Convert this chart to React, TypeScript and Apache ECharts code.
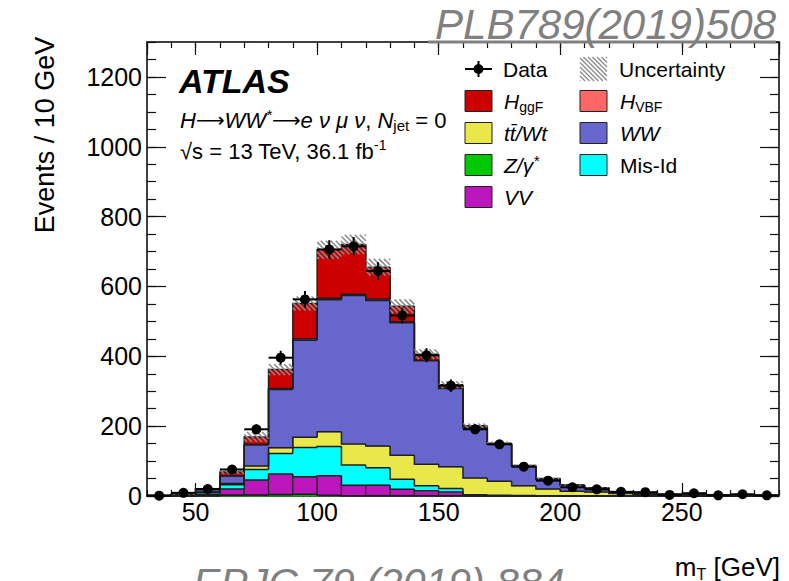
import React, { useEffect, useRef } from "react";
import * as echarts from "echarts";

// ---------------- data (events per 10 GeV bin) ----------------
const binEdges = [30, 40, 50, 60, 70, 80, 90, 100, 110, 120, 130, 140, 150, 160, 170, 180, 190, 200, 210, 220, 230, 240, 250, 260, 270, 280, 290];

// stacked contributions, bottom to top
const zGamma = [0, 0, 1, 3, 3, 4, 5, 2, 1, 1, 1, 1, 0.5, 0.3, 0.2, 0.1, 0.1, 0, 0, 0, 0, 0, 0, 0, 0, 0];
const vv = [0.3, 1, 4, 17, 43, 59, 50, 56, 30, 30, 18, 14, 11, 1.5, 0.8, 0.5, 0.3, 0.2, 0.2, 0.1, 0.1, 0.1, 0, 0, 0, 0];
const misId = [0.5, 1.5, 5, 12, 30, 59, 84, 84, 58, 50, 29, 14, 10, 2, 1, 0.5, 0.4, 0.3, 0.2, 0.1, 0.1, 0, 0, 0, 0, 0];
const ttWt = [0.2, 0.5, 1.5, 4, 10, 16, 29, 42, 60, 62, 69, 62, 62, 48, 40, 28, 19, 13, 11, 7, 5, 3.5, 2.5, 2, 1.5, 1];
const ww = [0.4, 1.5, 7, 21, 60, 167, 278, 378, 425, 417, 379, 296, 224, 143, 106, 56, 29, 17, 12, 4, 2, 1.5, 1, 0.5, 0.5, 0.3];
const hVBF = [0, 0, 0.2, 1, 2, 3, 4, 4, 4, 4, 3, 2, 1, 1, 0.5, 0.5, 0.3, 0.2, 0.1, 0.1, 0, 0, 0, 0, 0, 0];
const hggF = [0.1, 0.5, 2, 11, 21, 54, 101, 139, 142, 91, 44, 17, 10, 5, 2.5, 1.5, 1, 0.5, 0.4, 0.3, 0.2, 0.1, 0.1, 0.1, 0.1, 0.1];
const uncertainty = [0.5, 1, 2, 6, 14, 16, 20, 26, 28, 24, 20, 14, 10, 7, 5, 3, 2, 1.5, 1, 0.6, 0.4, 0.3, 0.2, 0.2, 0.1, 0.1];

const dataCounts = [1, 9, 20, 76, 191, 396, 563, 706, 715, 644, 517, 403, 316, 191, 148, 84, 44, 25, 19, 12, 11, 3, 8, 2, 5, 2];
const dataErrors = [1, 3, 4.5, 8.7, 13.8, 19.9, 23.7, 26.6, 26.7, 25.4, 22.7, 20.1, 17.8, 13.8, 12.2, 9.2, 6.6, 5, 4.4, 3.5, 3.3, 1.7, 2.8, 1.4, 2.2, 1.4];

const layerNames = ["Z/γ*", "VV", "Mis-Id", "tt/Wt", "WW", "H VBF", "H ggF"];
const layerValues = [zGamma, vv, misId, ttWt, ww, hVBF, hggF];
const layerColors = ["#00c800", "#bb16bb", "#00ffff", "#e8e84a", "#6666cc", "#ff6666", "#cc0000"];
const layerBoxed = [false, true, false, false, false, false, false];

const FONT = '"Liberation Sans", Arial, Helvetica, sans-serif';

function hatchSegments(x0: number, y0: number, x1: number, y1: number, s: number) {
  const segs: number[][] = [];
  const cMin = Math.ceil((y0 - x1) / s) * s;
  for (let c = cMin; c <= y1 - x0; c += s) {
    const xa = Math.max(x0, y0 - c);
    const xb = Math.min(x1, y1 - c);
    if (xb > xa + 0.3) segs.push([xa, xa + c, xb, xb + c]);
  }
  return segs;
}

function buildOption() {
  const nBins = binEdges.length - 1;
  const cum = new Array(nBins).fill(0);
  const series: any[] = [];

  layerValues.forEach((vals, li) => {
    const rows: number[][] = [];
    for (let i = 0; i < nBins; i++) {
      const base = cum[i];
      rows.push([binEdges[i], binEdges[i + 1], base, base + vals[i], 0]);
    }
    for (let i = 0; i < nBins; i++) {
      rows[i][4] = i > 0 ? rows[i - 1][3] : 0;
      cum[i] += vals[i];
    }
    const color = layerColors[li];
    const boxed = layerBoxed[li];
    series.push({
      type: "custom",
      name: layerNames[li] + " fill",
      xAxisIndex: 0,
      yAxisIndex: 0,
      z: 2,
      silent: true,
      encode: { x: [0, 1], y: [2, 3] },
      data: rows,
      renderItem: (params: any, api: any) => {
        const x0 = api.value(0), x1 = api.value(1), b = api.value(2), t = api.value(3);
        const p0 = api.coord([x0, t]);
        const p1 = api.coord([x1, b]);
        const h = p1[1] - p0[1];
        if (h <= 0.01) return null;
        return {
          type: "rect",
          shape: { x: p0[0], y: p0[1], width: p1[0] - p0[0] + (boxed ? 0 : 0.6), height: h + 0.4 },
          style: boxed
            ? { fill: color, stroke: "#2a2a2a", lineWidth: 1.2 }
            : { fill: color, stroke: null },
        };
      },
    });
    series.push({
      type: "custom",
      name: layerNames[li] + " line",
      xAxisIndex: 0,
      yAxisIndex: 0,
      z: 3,
      silent: true,
      encode: { x: [0, 1], y: [3, 4] },
      data: rows,
      renderItem: (params: any, api: any) => {
        const x0 = api.value(0), x1 = api.value(1), t = api.value(3), prev = api.value(4);
        const a = api.coord([x0, prev]);
        const b = api.coord([x0, t]);
        const c = api.coord([x1, t]);
        return {
          type: "polyline",
          shape: { points: [a, b, c] },
          style: { stroke: "#1e1e1e", lineWidth: 1.5, fill: null },
        };
      },
    });
  });

  // uncertainty hatch
  const uncRows = cum.map((tot: number, i: number) => [binEdges[i], binEdges[i + 1], tot, uncertainty[i]]);
  series.push({
    type: "custom",
    name: "Uncertainty",
    xAxisIndex: 0,
    yAxisIndex: 0,
    z: 4,
    silent: true,
    encode: { x: [0, 1], y: 2 },
    data: uncRows,
    renderItem: (params: any, api: any) => {
      const x0 = api.value(0), x1 = api.value(1), tot = api.value(2), u = api.value(3);
      const pa = api.coord([x0, tot + u]);
      const pb = api.coord([x1, Math.max(0, tot - u)]);
      const segs = hatchSegments(pa[0], pa[1], pb[0], pb[1], 5);
      return {
        type: "group",
        children: segs.map((s) => ({
          type: "line",
          shape: { x1: s[0], y1: s[1], x2: s[2], y2: s[3] },
          style: { stroke: "#8a8a8a", lineWidth: 1.5 },
        })),
      };
    },
  });

  // data points
  const dataRows = dataCounts.map((v, i) => [(binEdges[i] + binEdges[i + 1]) / 2, v, dataErrors[i], binEdges[i], binEdges[i + 1]]);
  series.push({
    type: "custom",
    name: "Data",
    xAxisIndex: 0,
    yAxisIndex: 0,
    z: 6,
    silent: true,
    encode: { x: 0, y: 1 },
    data: dataRows,
    renderItem: (params: any, api: any) => {
      const xc = api.value(0), y = api.value(1), e = api.value(2), x0 = api.value(3), x1 = api.value(4);
      const c = api.coord([xc, y]);
      const l = api.coord([x0, y]);
      const r = api.coord([x1, y]);
      const up = api.coord([xc, y + e]);
      const dn = api.coord([xc, Math.max(0, y - e)]);
      return {
        type: "group",
        children: [
          { type: "line", shape: { x1: l[0], y1: l[1], x2: r[0], y2: r[1] }, style: { stroke: "#000", lineWidth: 2 } },
          { type: "line", shape: { x1: up[0], y1: up[1], x2: dn[0], y2: dn[1] }, style: { stroke: "#000", lineWidth: 2 } },
          { type: "circle", shape: { cx: c[0], cy: c[1], r: 5 }, style: { fill: "#000" } },
        ],
      };
    },
  });

  const axisLineStyle = { color: "#000", width: 1.5 };
  const tickStyle = { color: "#111", width: 1.2 };
  const xBase = { type: "value", min: 30, max: 290, splitLine: { show: false } };
  const yBase = { type: "value", min: 0, max: 1300, splitLine: { show: false } };
  const plain = (v: number) => String(v);

  const xAxis = [
    {
      ...xBase,
      position: "bottom",
      splitNumber: 5,
      axisLine: { show: true, onZero: false, lineStyle: axisLineStyle },
      axisTick: { show: true, inside: true, length: 13, lineStyle: tickStyle },
      axisLabel: { show: true, color: "#000", fontSize: 25, fontFamily: FONT, margin: 3, showMinLabel: false, showMaxLabel: false, formatter: plain },
    },
    {
      ...xBase,
      position: "bottom",
      interval: 10,
      axisLine: { show: false, onZero: false },
      axisTick: { show: true, inside: true, length: 6, lineStyle: tickStyle },
      axisLabel: { show: false },
    },
    {
      ...xBase,
      position: "top",
      splitNumber: 5,
      axisLine: { show: true, onZero: false, lineStyle: axisLineStyle },
      axisTick: { show: true, inside: true, length: 13, lineStyle: tickStyle },
      axisLabel: { show: false },
    },
    {
      ...xBase,
      position: "top",
      interval: 10,
      axisLine: { show: false, onZero: false },
      axisTick: { show: true, inside: true, length: 6, lineStyle: tickStyle },
      axisLabel: { show: false },
    },
  ];
  const yAxis = [
    {
      ...yBase,
      position: "left",
      interval: 200,
      axisLine: { show: true, onZero: false, lineStyle: axisLineStyle },
      axisTick: { show: true, inside: true, length: 19, lineStyle: tickStyle },
      axisLabel: { show: true, color: "#000", fontSize: 25, fontFamily: FONT, margin: 5, showMaxLabel: false, formatter: plain },
    },
    {
      ...yBase,
      position: "left",
      interval: 50,
      axisLine: { show: false, onZero: false },
      axisTick: { show: true, inside: true, length: 9, lineStyle: tickStyle },
      axisLabel: { show: false },
    },
    {
      ...yBase,
      position: "right",
      interval: 200,
      axisLine: { show: true, onZero: false, lineStyle: axisLineStyle },
      axisTick: { show: true, inside: true, length: 19, lineStyle: tickStyle },
      axisLabel: { show: false },
    },
    {
      ...yBase,
      position: "right",
      interval: 50,
      axisLine: { show: false, onZero: false },
      axisTick: { show: true, inside: true, length: 9, lineStyle: tickStyle },
      axisLabel: { show: false },
    },
  ];

  // --------------- graphic: labels and legend ----------------
  const rich = (fs: number, lh: number) => ({
    i: { fontStyle: "italic", fontSize: fs, fontFamily: FONT, fill: "#000", color: "#000", lineHeight: lh },
    r: { fontSize: fs, fontFamily: FONT, fill: "#000", color: "#000", lineHeight: lh },
    arr: { fontSize: fs - 2, fontFamily: '"DejaVu Sans", sans-serif', fill: "#000", color: "#000", lineHeight: lh },
    sub: { fontSize: Math.round(fs * 0.68), fontFamily: FONT, fill: "#000", color: "#000", lineHeight: Math.round(fs * 0.5), verticalAlign: "bottom" },
    sup: { fontSize: Math.round(fs * 0.62), fontFamily: FONT, fill: "#000", color: "#000", lineHeight: Math.round(fs * 0.62), verticalAlign: "top" },
    supi: { fontStyle: "italic", fontSize: Math.round(fs * 0.7), fontFamily: FONT, fill: "#000", color: "#000", lineHeight: Math.round(fs * 0.66), verticalAlign: "top" },
  });

  const textEl = (x: number, y: number, text: string, fs: number, extra: any = {}) => ({
    type: "text",
    x,
    y,
    z: 100,
    silent: true,
    style: {
      text,
      fontSize: fs,
      fontFamily: FONT,
      fill: "#000",
      align: "left",
      verticalAlign: "middle",
      lineHeight: fs + 4,
      rich: rich(fs, fs + 4),
      ...extra,
    },
  });

  const els: any[] = [];

  // y-axis title
  els.push({
    type: "text",
    x: 45,
    y: 135,
    rotation: Math.PI / 2,
    z: 100,
    silent: true,
    style: { text: "Events / 10 GeV", fontSize: 27, fontFamily: FONT, fill: "#000", align: "center", verticalAlign: "middle" },
  });
  // x-axis title
  els.push({
    type: "text",
    x: 780,
    y: 567,
    z: 100,
    silent: true,
    style: {
      text: "m{sub|T} [GeV]",
      fontSize: 26,
      fontFamily: FONT,
      fill: "#000",
      align: "right",
      verticalAlign: "middle",
      lineHeight: 30,
      rich: {
        sub: { fontSize: 16, fontFamily: FONT, fill: "#000", lineHeight: 12, verticalAlign: "bottom" },
      },
    },
  });

  // ATLAS label
  els.push({
    type: "text",
    x: 179,
    y: 81,
    z: 100,
    silent: true,
    style: { text: "ATLAS", fontSize: 34, fontWeight: "bold", fontStyle: "italic", fontFamily: FONT, fill: "#000", align: "left", verticalAlign: "middle" },
  });
  els.push(textEl(180, 120, "{i|H}{arr|⟶}{i|WW}{supi|*}{arr|⟶}{i|e ν μ ν}, {i|N}{sub|jet} = 0", 22));
  els.push(textEl(180, 151, "√s = 13 TeV, 36.1 fb{sup|-1}", 22));

  // legend
  const rowY = [69, 101, 133, 165, 197];
  const iconX = [465, 580];
  const textX = [503, 619];
  const iconW = 27;
  const iconH = 21;

  // Data marker
  els.push({ type: "line", z: 100, silent: true, shape: { x1: iconX[0], y1: rowY[0], x2: iconX[0] + iconW, y2: rowY[0] }, style: { stroke: "#000", lineWidth: 2 } });
  els.push({ type: "line", z: 100, silent: true, shape: { x1: iconX[0] + iconW / 2, y1: rowY[0] - 8, x2: iconX[0] + iconW / 2, y2: rowY[0] + 8 }, style: { stroke: "#000", lineWidth: 2 } });
  els.push({ type: "circle", z: 101, silent: true, shape: { cx: iconX[0] + iconW / 2, cy: rowY[0], r: 5 }, style: { fill: "#000" } });
  els.push(textEl(textX[0], rowY[0], "Data", 21));

  // Uncertainty hatch icon
  hatchSegments(iconX[1], rowY[0] - 12, iconX[1] + iconW, rowY[0] + 12, 4.5).forEach((s) => {
    els.push({ type: "line", z: 100, silent: true, shape: { x1: s[0], y1: s[1], x2: s[2], y2: s[3] }, style: { stroke: "#8a8a8a", lineWidth: 1.3 } });
  });
  els.push(textEl(textX[1], rowY[0], "Uncertainty", 21));

  const legendItems = [
    { label: "{i|H}{sub|ggF}", layer: 6, col: 0, row: 1 },
    { label: "{i|H}{sub|VBF}", layer: 5, col: 1, row: 1 },
    { label: "{i|tt\u0304/Wt}", layer: 3, col: 0, row: 2 },
    { label: "{i|WW}", layer: 4, col: 1, row: 2 },
    { label: "{i|Z/γ}{supi|*}", layer: 0, col: 0, row: 3 },
    { label: "Mis-Id", layer: 2, col: 1, row: 3 },
    { label: "{i|VV}", layer: 1, col: 0, row: 4 },
  ];
  legendItems.forEach((it) => {
    els.push({
      type: "rect",
      z: 100,
      silent: true,
      shape: { x: iconX[it.col], y: rowY[it.row] - iconH / 2, width: iconW, height: iconH },
      style: { fill: layerColors[it.layer], stroke: "#222", lineWidth: 1 },
    });
    els.push(textEl(textX[it.col] + 1, rowY[it.row], it.label, 21));
  });

  // publication references (grey, italic, underlined)
  els.push({
    type: "text",
    x: 776,
    y: 24,
    z: 100,
    silent: true,
    style: { text: "PLB789(2019)508", fontSize: 42, fontStyle: "italic", fontFamily: FONT, fill: "#808080", align: "right", verticalAlign: "middle" },
  });
  els.push({ type: "line", z: 101, silent: true, shape: { x1: 428, y1: 42, x2: 776, y2: 42 }, style: { stroke: "#808080", lineWidth: 3 } });
  els.push({
    type: "text",
    x: 193,
    y: 583,
    z: 100,
    silent: true,
    style: { text: "EPJC 79 (2019) 884", fontSize: 41, fontStyle: "italic", fontFamily: FONT, fill: "#808080", align: "left", verticalAlign: "middle" },
  });

  return {
    animation: false,
    backgroundColor: "#ffffff",
    grid: { left: 147, right: 10, top: 42, bottom: 85, containLabel: false, outerBoundsMode: "none" },
    xAxis,
    yAxis,
    series,
    graphic: { elements: els },
  };
}

export default function App() {
  const ref = useRef<HTMLDivElement>(null);
  useEffect(() => {
    if (!ref.current) return;
    const chart = echarts.init(ref.current, undefined, { renderer: "svg" });
    chart.setOption(buildOption() as any);
    return () => chart.dispose();
  }, []);
  return <div ref={ref} style={{ position: "fixed", left: 0, top: 0, width: 789, height: 581, background: "#fff" }} />;
}
